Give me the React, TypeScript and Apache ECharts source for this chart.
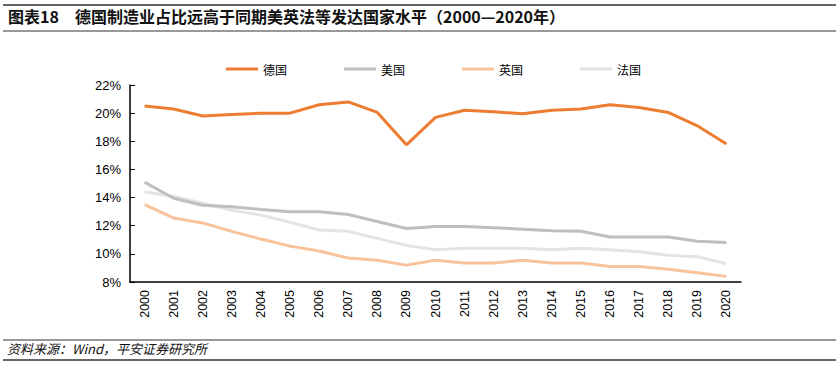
import React, { useEffect, useRef } from "react";
import * as echarts from "echarts";

const years = ["2000","2001","2002","2003","2004","2005","2006","2007","2008","2009","2010","2011","2012","2013","2014","2015","2016","2017","2018","2019","2020"];
const germany = [20.5,20.3,19.8,19.9,20.0,20.0,20.6,20.8,20.05,17.75,19.7,20.2,20.1,19.95,20.2,20.3,20.6,20.4,20.05,19.1,17.8];
const usa = [15.1,13.95,13.45,13.35,13.15,13.0,13.0,12.8,12.3,11.8,11.95,11.95,11.85,11.75,11.65,11.6,11.2,11.2,11.2,10.9,10.8];
const uk = [13.5,12.55,12.2,11.6,11.05,10.55,10.2,9.7,9.55,9.2,9.55,9.35,9.35,9.55,9.35,9.35,9.1,9.1,8.9,8.65,8.4];
const france = [14.4,14.1,13.6,13.1,12.75,12.25,11.7,11.6,11.1,10.6,10.3,10.4,10.4,10.4,10.3,10.4,10.3,10.15,9.9,9.8,9.3];
const seriesNames = ["德国", "美国", "英国", "法国"];
const colors = ["#ED7D31", "#BFBFBF", "#F8C29A", "#E4E4E4"];
const titleLabel = "图表18";
const titleText = "德国制造业占比远高于同期美英法等发达国家水平（2000—2020年）";
const sourceText = "资料来源：Wind，平安证券研究所";

export default function App() {
  const ref = useRef<HTMLDivElement>(null);
  useEffect(() => {
    const chart = echarts.init(ref.current!, null, { renderer: "svg" });
    const data = [germany, usa, uk, france];
    chart.setOption({
      animation: false,
      backgroundColor: "#fff",
      textStyle: { fontFamily: "Liberation Sans, Noto Sans CJK SC, sans-serif" },
      legend: {
        left: 221,
        top: 58,
        itemWidth: 32,
        itemHeight: 3,
        itemGap: 57,
        icon: "rect",
        textStyle: { fontSize: 12, color: "#000", fontFamily: "Noto Sans CJK SC" },
        data: seriesNames,
      },
      grid: { left: 130, right: 95, top: 85, bottom: 98 },
      xAxis: {
        type: "category",
        data: years,
        boundaryGap: true,
        axisLine: { lineStyle: { color: "#000", width: 1.5 } },
        axisTick: { inside: true, length: 5, lineStyle: { color: "#000" } },
        axisLabel: { rotate: 90, fontSize: 12.5, color: "#000", margin: 8, interval: 0 },
      },
      yAxis: {
        type: "value",
        min: 8,
        max: 22,
        interval: 2,
        axisLine: { show: true, lineStyle: { color: "#000", width: 1.5 } },
        axisTick: { show: true, inside: true, length: 5, lineStyle: { color: "#000" } },
        splitLine: { show: false },
        axisLabel: { formatter: "{value}%", fontSize: 13, color: "#000", margin: 9 },
      },
      series: seriesNames.map((n, i) => ({
        name: n,
        type: "line",
        data: data[i],
        symbol: "none",
        color: colors[i],
        lineStyle: { width: 3, color: colors[i] },
        z: 10 - i,
      })),
      graphic: [
        { type: "line", shape: { x1: 3, y1: 5, x2: 836, y2: 5 }, style: { stroke: "#333", lineWidth: 1.5 } },
        { type: "text", left: 8, top: 8, style: { text: titleLabel, fontSize: 16, fontWeight: "bold", fill: "#111", fontFamily: "Noto Sans CJK SC" } },
        { type: "text", left: 75, top: 8, style: { text: titleText, fontSize: 16, fontWeight: "bold", fill: "#111", fontFamily: "Noto Sans CJK SC" } },
        { type: "line", shape: { x1: 3, y1: 31, x2: 836, y2: 31 }, style: { stroke: "#333", lineWidth: 1 } },
        { type: "line", shape: { x1: 3, y1: 340, x2: 836, y2: 340 }, style: { stroke: "#333", lineWidth: 1 } },
        { type: "text", left: 7, top: 342, style: { text: sourceText, fontSize: 13, fontStyle: "italic", fill: "#111", fontFamily: "Noto Sans CJK SC" } },
        { type: "line", shape: { x1: 3, y1: 360, x2: 836, y2: 360 }, style: { stroke: "#333", lineWidth: 1.5 } },
      ],
    });
    return () => chart.dispose();
  }, []);
  return <div ref={ref} style={{ position: "fixed", left: 0, top: 0, width: 836, height: 380 }} />;
}
